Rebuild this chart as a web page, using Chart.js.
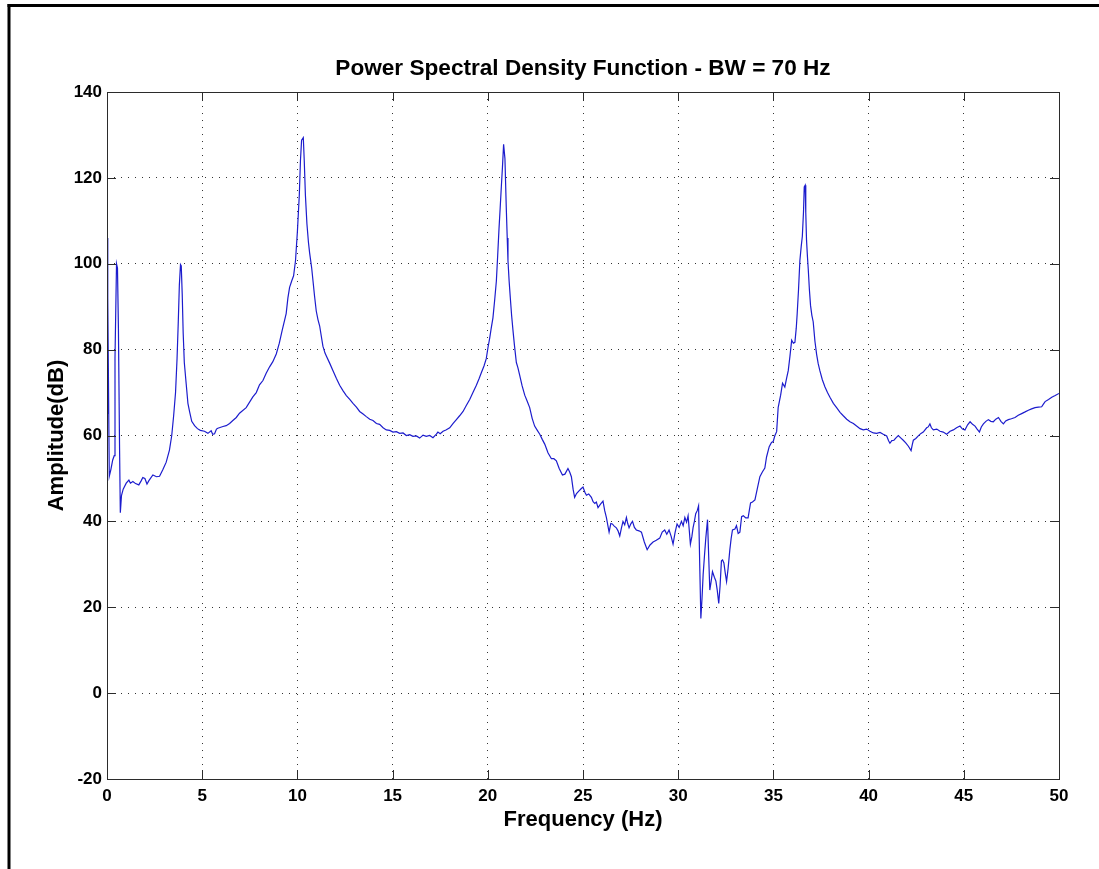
<!DOCTYPE html>
<html>
<head>
<meta charset="utf-8">
<title>Power Spectral Density Function</title>
<script src="https://cdn.jsdelivr.net/npm/chart.js@4.4.1/dist/chart.umd.min.js"></script>
<style>
  html, body { margin: 0; padding: 0; background: #fff; }
  #wrap { position: relative; width: 1099px; height: 869px; }
</style>
</head>
<body>
<div id="wrap"><canvas id="psd" width="1099" height="869"></canvas></div>
<script>
var chartTitle = 'Power Spectral Density Function - BW = 70 Hz';
var xLabel = 'Frequency (Hz)';
var yLabel = 'Amplitude(dB)';
var xTicks = [0, 5, 10, 15, 20, 25, 30, 35, 40, 45, 50];
var yTicks = [-20, 0, 20, 40, 60, 80, 100, 120, 140];

// values (Hz, dB)
var freqHz = [
  0.00, 0.03, 0.05, 0.12, 0.20, 0.30, 0.38, 0.42, 0.50, 0.55, 0.60, 0.66, 0.70, 0.76, 0.85,
  1.01, 1.15, 1.23, 1.36, 1.50, 1.67, 1.80, 1.88, 1.99, 2.10, 2.20, 2.41, 2.60, 2.76, 2.93,
  3.11, 3.28, 3.40, 3.50, 3.60, 3.68, 3.74, 3.80, 3.86, 3.90, 3.95, 4.00, 4.06, 4.16, 4.25,
  4.34, 4.45, 4.60, 4.75, 4.90, 5.12, 5.30, 5.47, 5.55, 5.65, 5.75, 5.82, 6.09, 6.26, 6.44,
  6.61, 6.79, 6.96, 7.31, 7.66, 7.84, 8.01, 8.19, 8.36, 8.54, 8.71, 8.89, 9.05, 9.20, 9.41,
  9.50, 9.59, 9.70, 9.80, 9.90, 10.00, 10.10, 10.16, 10.22, 10.31, 10.36, 10.42, 10.50, 10.58, 10.64,
  10.75, 10.82, 10.90, 10.99, 11.08, 11.17, 11.26, 11.34, 11.45, 11.52, 11.70, 11.87, 12.05, 12.22, 12.40,
  12.57, 12.75, 12.92, 13.10, 13.27, 13.45, 13.62, 13.80, 13.97, 14.15, 14.32, 14.50, 14.67, 14.85, 15.02,
  15.20, 15.37, 15.55, 15.72, 15.90, 16.07, 16.25, 16.42, 16.60, 16.77, 16.95, 17.12, 17.30, 17.38, 17.50,
  17.65, 17.80, 18.00, 18.18, 18.35, 18.52, 18.70, 18.87, 19.05, 19.22, 19.40, 19.54, 19.66, 19.80, 19.92,
  20.01, 20.10, 20.18, 20.27, 20.36, 20.45, 20.52, 20.59, 20.65, 20.71, 20.77, 20.83, 20.90, 20.97, 21.02,
  21.06, 21.12, 21.18, 21.25, 21.32, 21.40, 21.50, 21.58, 21.67, 21.80, 21.94, 22.07, 22.20, 22.33, 22.46,
  22.60, 22.73, 22.86, 22.99, 23.16, 23.34, 23.47, 23.60, 23.75, 23.92, 24.05, 24.21, 24.30, 24.39, 24.48,
  24.56, 24.66, 24.79, 24.90, 25.00, 25.10, 25.18, 25.30, 25.44, 25.53, 25.62, 25.70, 25.79, 25.92, 26.05,
  26.14, 26.23, 26.37, 26.46, 26.54, 26.64, 26.75, 26.84, 26.93, 27.02, 27.10, 27.19, 27.28, 27.35, 27.42,
  27.52, 27.60, 27.70, 27.80, 27.94, 28.07, 28.22, 28.37, 28.52, 28.68, 28.85, 29.03, 29.16, 29.29, 29.40,
  29.52, 29.63, 29.73, 29.84, 29.94, 30.05, 30.17, 30.26, 30.35, 30.44, 30.52, 30.58, 30.64, 30.72, 30.78,
  30.85, 30.92, 31.00, 31.07, 31.13, 31.19, 31.25, 31.31, 31.38, 31.45, 31.54, 31.60, 31.66, 31.73, 31.80,
  31.90, 31.98, 32.05, 32.13, 32.20, 32.27, 32.33, 32.40, 32.47, 32.54, 32.62, 32.71, 32.78, 32.85, 32.98,
  33.06, 33.15, 33.24, 33.33, 33.42, 33.55, 33.67, 33.80, 33.90, 34.03, 34.15, 34.29, 34.42, 34.55, 34.64,
  34.78, 34.90, 34.99, 35.08, 35.17, 35.25, 35.38, 35.48, 35.60, 35.70, 35.78, 35.87, 35.96, 36.05, 36.13,
  36.20, 36.25, 36.32, 36.39, 36.46, 36.52, 36.58, 36.62, 36.67, 36.70, 36.74, 36.79, 36.83, 36.89, 36.95,
  37.02, 37.09, 37.18, 37.27, 37.35, 37.44, 37.57, 37.71, 37.84, 37.97, 38.15, 38.32, 38.50, 38.67, 38.85,
  39.02, 39.20, 39.37, 39.55, 39.72, 39.90, 40.07, 40.25, 40.42, 40.60, 40.77, 40.95, 41.05, 41.12, 41.22,
  41.33, 41.45, 41.56, 41.70, 41.82, 41.95, 42.09, 42.23, 42.30, 42.35, 42.48, 42.61, 42.75, 42.87, 43.05,
  43.13, 43.22, 43.30, 43.40, 43.58, 43.75, 43.92, 44.10, 44.28, 44.45, 44.62, 44.80, 44.93, 45.06, 45.20,
  45.33, 45.46, 45.59, 45.70, 45.82, 45.92, 46.03, 46.16, 46.29, 46.42, 46.55, 46.68, 46.82, 46.95, 47.08,
  47.20, 47.34, 47.50, 47.69, 47.86, 48.04, 48.22, 48.39, 48.56, 48.74, 48.92, 49.09, 49.18, 49.27, 49.45,
  49.62, 49.80, 50.00
];
var ampDb = [
  106, 65, 92, 50.5, 52, 54.3, 55.3, 78, 100, 99, 85, 57, 42, 46, 47.5,
  48.9, 49.6, 48.9, 49.3, 48.8, 48.5, 49.5, 50.2, 50, 48.7, 49.5, 50.8, 50.4, 50.5, 52,
  53.8, 56.6, 60, 64.6, 70, 78, 86, 95, 99.8, 99.5, 93, 84, 77, 72, 67.5,
  65.5, 63.3, 62.3, 61.6, 61.2, 61, 60.5, 61.1, 60.3, 60.4, 61.5, 61.7, 62.1, 62.3, 62.8,
  63.5, 64.2, 65.2, 66.5, 69, 70, 71.8, 72.8, 74.5, 76, 77.2, 79, 81.5, 84.5, 88.4,
  92, 94.5, 96, 97.2, 100.7, 107.5, 116, 124, 128.8, 129.4, 124, 116, 109.3, 105, 102.6,
  99, 96, 92.5, 89, 87, 85.5, 83, 80.8, 79.2, 78.5, 76.8, 75.1, 73.3, 71.7, 70.4,
  69.3, 68.4, 67.5, 66.6, 65.6, 65, 64.4, 63.8, 63.5, 62.8, 62.6, 61.8, 61.3, 61.2, 60.8,
  60.9, 60.5, 60.6, 60, 60.2, 59.8, 59.9, 59.4, 60.1, 59.8, 60, 59.5, 60.3, 60.8, 60.4,
  61, 61.3, 61.8, 62.8, 63.7, 64.6, 65.6, 67, 68.4, 70, 71.7, 73.2, 74.6, 76.2, 77.9,
  80.5, 82.7, 85, 87.4, 91.5, 96, 102, 108.3, 113, 117.9, 122.5, 127.8, 124.5, 113.1, 106,
  100.7, 96, 92.2, 88, 84.6, 81, 77, 75.8, 74.1, 71.6, 69.4, 68, 66.5, 64, 62.2,
  61.2, 60.3, 59.1, 58, 56, 54.6, 54.6, 54.1, 52.3, 50.8, 51, 52.3, 51.5, 50.4, 47.5,
  45.6, 46.5, 47.1, 47.6, 48, 46.8, 46.1, 46.4, 45.6, 44.6, 44.2, 44.5, 43.2, 44, 44.7,
  42.5, 40.9, 37.5, 39.5, 39.4, 38.9, 38.5, 37.8, 36.6, 38.5, 40, 39.2, 40.9, 39.5, 38.5,
  39.5, 40, 38.6, 38, 37.8, 37.5, 35.2, 33.4, 34.5, 35.2, 35.6, 36.1, 37.5, 38, 37,
  38, 36.5, 34.7, 37.5, 39.4, 38.6, 40, 39, 40.9, 39.8, 41.3, 38, 34.7, 36.5, 38.5,
  40, 41.8, 42.5, 43.6, 30, 17.4, 22, 27.6, 32, 36.1, 40.4, 32, 24, 26, 28.3,
  27, 26.1, 24, 20.9, 25, 30.8, 31, 30.3, 28, 26, 29, 33.3, 36, 38, 38.2,
  39, 37.2, 37.5, 41.1, 41.3, 40.8, 40.8, 44.3, 44.5, 45, 47.5, 50.4, 51.5, 52.4, 55,
  57.4, 58.4, 58.6, 60, 60.9, 66.5, 69.4, 72.2, 71.3, 73.5, 75.1, 78.5, 82.2, 81.5, 81.7,
  85, 88.4, 94, 100.7, 104, 106.4, 112, 117.9, 118.3, 112, 105.5, 101.5, 98.8, 94, 90.3,
  88, 86.5, 82, 78.9, 76.8, 75.1, 73, 71.3, 70, 68.9, 67.5, 66.5, 65.4, 64.6, 63.8,
  63.2, 62.8, 62.2, 61.6, 61.3, 61.5, 61, 60.6, 60.5, 60.7, 60.3, 59.9, 58.8, 58.2, 58.8,
  58.9, 59.5, 60, 59.4, 58.9, 58.3, 57.5, 56.5, 58, 58.9, 59.3, 59.9, 60.5, 60.8, 61.8,
  62, 62.7, 61.8, 61.3, 61.5, 61, 60.8, 60.3, 61, 61.3, 61.8, 62.2, 61.5, 61.3, 62.5,
  63.2, 62.6, 62.2, 61.5, 60.8, 62, 62.7, 63.3, 63.7, 63.3, 63.2, 63.8, 64.2, 63.3, 62.7,
  63.4, 63.7, 63.9, 64.2, 64.7, 65.1, 65.5, 65.9, 66.2, 66.5, 66.6, 66.7, 67.3, 67.9, 68.4,
  68.9, 69.3, 69.8
];

var fontFamily = "'Liberation Sans', Arial, Helvetica, sans-serif";

// solid box round the plot, inward tick marks on all four sides, outer frame
var boxPlugin = {
  id: 'boxPlugin',
  afterDatasetsDraw: function(chart) {
    var ctx = chart.ctx;
    var area = chart.chartArea;
    var xs = chart.scales.x;
    var ys = chart.scales.y;
    var tickLen = 9;
    ctx.save();
    ctx.strokeStyle = '#2b2b2b';
    ctx.lineWidth = 1;
    ctx.strokeRect(Math.round(area.left) + 0.5, Math.round(area.top) + 0.5,
      Math.round(area.right - area.left), Math.round(area.bottom - area.top));
    ctx.beginPath();
    xTicks.forEach(function(v) {
      var px = Math.round(xs.getPixelForValue(v)) + 0.5;
      ctx.moveTo(px, area.bottom);
      ctx.lineTo(px, area.bottom - tickLen);
      ctx.moveTo(px, area.top);
      ctx.lineTo(px, area.top + tickLen);
    });
    yTicks.forEach(function(v) {
      var py = Math.round(ys.getPixelForValue(v)) + 0.5;
      ctx.moveTo(area.left, py);
      ctx.lineTo(area.left + tickLen, py);
      ctx.moveTo(area.right, py);
      ctx.lineTo(area.right - tickLen, py);
    });
    ctx.stroke();
    ctx.fillStyle = '#000';
    ctx.fillRect(7.5, 4, chart.width - 7.5, 3);
    ctx.fillRect(7.5, 4, 3, chart.height - 4);
    ctx.restore();
  }
};

var points = [];
for (var i = 0; i < freqHz.length; i++) {
  points.push({x: freqHz[i], y: ampDb[i]});
}

var tickFont = {family: fontFamily, size: 17, weight: 'bold'};
var labelFont = {family: fontFamily, size: 22, weight: 'bold', lineHeight: 1.2};
var titleFont = {family: fontFamily, size: 22.6, weight: 'bold', lineHeight: 1.2};

var ctx = document.getElementById('psd').getContext('2d');
var psdChart = new Chart(ctx, {
  type: 'line',
  data: {
    datasets: [{
      label: 'PSD',
      data: points,
      borderColor: 'rgb(28,28,205)',
      borderWidth: 1.2,
      pointRadius: 0,
      tension: 0,
      fill: false
    }]
  },
  options: {
    responsive: false,
    animation: false,
    devicePixelRatio: 1,
    layout: {
      padding: {left: 0, right: 40, top: 0, bottom: 0}
    },
    plugins: {
      legend: {display: false},
      tooltip: {enabled: false},
      title: {
        display: true,
        text: chartTitle,
        fullSize: false,
        color: '#000',
        font: titleFont,
        padding: {top: 55, bottom: 9.9}
      }
    },
    scales: {
      x: {
        type: 'linear',
        min: 0,
        max: 50,
        afterBuildTicks: function(scale) {
          scale.ticks = xTicks.map(function(v) { return {value: v}; });
        },
        afterFit: function(scale) {
          scale.height = 90;
        },
        grid: {color: '#333', lineWidth: 1, drawTicks: false},
        border: {display: false, dash: [1, 6]},
        ticks: {color: '#000', font: tickFont, padding: 7, maxRotation: 0},
        title: {
          display: true,
          text: xLabel,
          color: '#000',
          font: labelFont,
          padding: {top: 0, bottom: 35.8}
        }
      },
      y: {
        type: 'linear',
        min: -20,
        max: 140,
        afterBuildTicks: function(scale) {
          scale.ticks = yTicks.map(function(v) { return {value: v}; });
        },
        afterFit: function(scale) {
          scale.width = 107;
        },
        grid: {color: '#333', lineWidth: 1, drawTicks: false},
        border: {display: false, dash: [1, 6]},
        ticks: {color: '#000', font: tickFont, padding: 5},
        title: {
          display: true,
          text: yLabel,
          color: '#000',
          font: labelFont,
          padding: {top: 43.3, bottom: 0}
        }
      }
    }
  },
  plugins: [boxPlugin]
});
</script>
</body>
</html>
